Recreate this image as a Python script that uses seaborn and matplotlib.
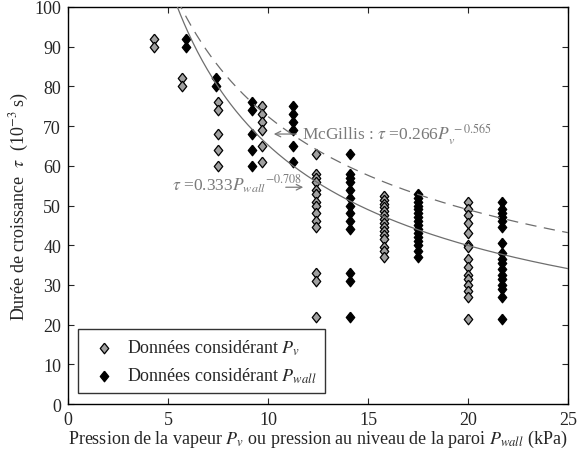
import numpy as np
import pandas as pd
import matplotlib
matplotlib.use("Agg")
import matplotlib.pyplot as plt
import seaborn as sns

# ---------------- data ----------------
pv_x = [4.3, 5.7, 7.5, 9.7, 12.4, 15.8, 20.0]
pv_y = [
    [92, 90],
    [82, 80],
    [76, 74, 68, 64, 60],
    [75, 73, 71, 69, 65, 61],
    [63, 58, 57, 56, 54, 53, 51, 50, 48, 46, 44.5, 33, 31, 22],
    [52.5, 51.5, 50.5, 49.5, 48.5, 47.5, 46.5, 45.5, 44.5, 43.5, 42.5, 41.5, 39.5, 38.5, 37],
    [51, 49, 47.5, 45.5, 43, 40, 39.5, 36.5, 34.5, 32.5, 31.5, 30, 28.5, 27, 21.5],
]
pw_x = [5.9, 7.4, 9.2, 11.25, 14.1, 17.5, 21.7]
pw_y = [
    [92, 90],
    [82, 80],
    [76, 74, 68, 64, 60],
    [75, 73, 71, 69, 65, 61],
    [63, 58, 57, 56, 54, 52, 50, 48, 46, 44, 33, 31, 22],
    [53, 52, 51, 50, 49, 48, 47, 46, 45, 44, 43, 42, 41, 40, 38.5, 37],
    [51, 49, 48, 47, 46, 44.5, 40.5, 38, 36.5, 35.5, 34, 32.5, 31.5, 30, 29, 27, 21.5],
]
# fitted power laws shown in the chart (tau in s, P in kPa)
fit_wall = (0.333, -0.708)
fit_mcgillis = (0.266, -0.565)

x_ticks = [0, 5, 10, 15, 20, 25]
y_ticks = list(range(0, 101, 10))

label_pv = r"Données considérant $P_v$"
label_pw = r"Données considérant $P_{wall}$"

# ---------------- build frames ----------------
def long_frame(xs, ys):
    rows = [(x, y) for x, col in zip(xs, ys) for y in col]
    return pd.DataFrame(rows, columns=["P", "tau"])

df_pv = long_frame(pv_x, pv_y)
df_pw = long_frame(pw_x, pw_y)

p_curve = np.linspace(1.0, 25.0, 400)
df_fit = pd.DataFrame({
    "P": p_curve,
    "wall": fit_wall[0] * p_curve ** fit_wall[1] * 1000,
    "mcg": fit_mcgillis[0] * p_curve ** fit_mcgillis[1] * 1000,
})

# ---------------- style ----------------
sns.set_style("ticks")
plt.rcParams["font.family"] = ["Liberation Serif", "DejaVu Serif"]
plt.rcParams["mathtext.fontset"] = "stix"
plt.rcParams["xtick.direction"] = "in"
plt.rcParams["ytick.direction"] = "in"

FS = 13

fig = plt.figure(figsize=(5.78, 4.56), dpi=100)
ax = fig.add_axes([68 / 578, 1 - 405 / 456, 500 / 578, 397 / 456])

diamond = [(0, 1), (0.8, 0), (0, -1), (-0.8, 0), (0, 1)]

sns.scatterplot(data=df_pv, x="P", y="tau", ax=ax, marker=diamond, s=58,
                color="#a0a0a0", edgecolor="black", linewidth=0.9,
                label=label_pv, zorder=3)
sns.scatterplot(data=df_pw, x="P", y="tau", ax=ax, marker=diamond, s=58,
                color="black", edgecolor="black", linewidth=0.9,
                label=label_pw, zorder=3)

sns.lineplot(data=df_fit, x="P", y="wall", ax=ax, color="#6e6e6e", lw=0.9,
             zorder=4, legend=False)
sns.lineplot(data=df_fit, x="P", y="mcg", ax=ax, color="#6e6e6e", lw=0.9,
             dashes=(9, 6), zorder=4, legend=False)

ax.set_xlim(0, 25)
ax.set_ylim(0, 100)
ax.set_xticks(x_ticks)
ax.set_yticks(y_ticks)
ax.tick_params(axis="both", which="both", labelsize=FS, length=4,
               top=True, right=True, width=0.8, pad=5)
for sp in ax.spines.values():
    sp.set_visible(True)
    sp.set_linewidth(1.0)
    sp.set_color("black")

ax.set_xlabel(r"Pression de la vapeur $P_v$ ou pression au niveau de la paroi $P_{wall}$ (kPa)",
              fontsize=FS, labelpad=0)
ax.set_ylabel(r"Durée de croissance  $\tau$  (10$^{-3}$ s)", fontsize=FS, labelpad=2)

# annotations
gray = "#7a7a7a"
ax.annotate("", xy=(10.15, 68.0), xytext=(11.55, 68.0),
            arrowprops=dict(arrowstyle="->", color=gray, lw=0.9))
ax.text(11.7, 68.2, r"McGillis : $\tau$ =0.266$P_v^{\,-0.565}$", color=gray,
        fontsize=12.5, ha="left", va="center", zorder=5)

ax.text(5.2, 55.5, r"$\tau$ =0.333$P_{wall}{}^{-0.708}$", color=gray,
        fontsize=12.5, ha="left", va="center", zorder=5)
ax.annotate("", xy=(11.9, 54.6), xytext=(10.75, 54.6),
            arrowprops=dict(arrowstyle="->", color=gray, lw=0.9))

leg = ax.legend(loc="lower left", bbox_to_anchor=(0.02, 0.027), frameon=True,
                fancybox=False, fontsize=FS, handletextpad=0.25,
                borderpad=0.45, labelspacing=0.5, handlelength=2.0,
                borderaxespad=0)
leg.get_frame().set_edgecolor("black")
leg.get_frame().set_linewidth(1.0)

fig.savefig("out.png", dpi=100)
